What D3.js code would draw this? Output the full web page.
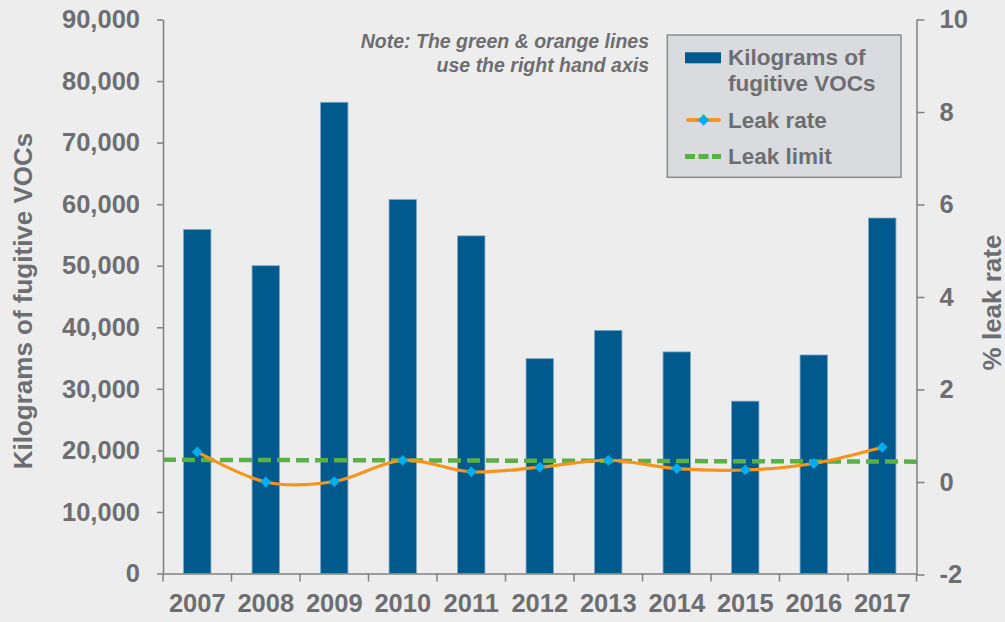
<!DOCTYPE html>
<html>
<head>
<meta charset="utf-8">
<script src="https://cdn.jsdelivr.net/npm/d3@7"></script>
<style>
  html, body { margin: 0; padding: 0; background: #EDEDED; }
  svg { display: block; }
  text { font-family: "Liberation Sans", Arial, sans-serif; font-weight: bold; fill: #6D6E71; }
</style>
</head>
<body>
<svg id="chart" width="1005" height="622"></svg>
<script>
// ---- data ----
const years = ["2007","2008","2009","2010","2011","2012","2013","2014","2015","2016","2017"];
const kgVOCs = [55900, 50000, 76550, 60750, 54850, 34900, 39500, 36000, 28000, 35500, 57750];
const leakRate = [0.65, 0.0, 0.01, 0.47, 0.22, 0.32, 0.47, 0.29, 0.26, 0.40, 0.75];
const leakLimitEnds = [0.48, 0.44];
const leftTicks = [0, 10000, 20000, 30000, 40000, 50000, 60000, 70000, 80000, 90000];
const rightTicks = [-2, 0, 2, 4, 6, 8, 10];
const legendLabels = [["Kilograms of", "fugitive VOCs"], ["Leak rate"], ["Leak limit"]];
const noteLines = ["Note: The green & orange lines", "use the right hand axis"];
const leftTitle = "Kilograms of fugitive VOCs";
const rightTitle = "% leak rate";

// ---- styles ----
const C = { bar: "#005A8E", barEdge: "#7FA8C8", line: "#F7941D", marker: "#00AEEF",
            limit: "#5BAF47", axis: "#7F8083", text: "#6D6E71", legendFill: "#D9DBDE", legendStroke: "#8A8C8E" };

const svg = d3.select("#chart");
svg.append("rect").attr("width", 1005).attr("height", 622).attr("fill", "#EDEDED");

const plot = { left: 163, right: 916.5, top: 19.5, bottom: 573.5 };

const x = d3.scaleBand().domain(years).range([plot.left, plot.right]).paddingInner(0.6).paddingOuter(0.3);
const yL = d3.scaleLinear().domain([0, 90000]).range([plot.bottom, plot.top]);
const yR = d3.scaleLinear().domain([-2, 10]).range([plot.bottom + 1, plot.top]);

// bars
svg.append("g").selectAll("rect").data(years).join("rect")
  .attr("x", d => x(d))
  .attr("width", x.bandwidth())
  .attr("y", (d, i) => yL(kgVOCs[i]))
  .attr("height", (d, i) => yL(0) - yL(kgVOCs[i]))
  .attr("fill", C.bar)
  .attr("stroke", C.barEdge)
  .attr("stroke-width", 0.8);

// leak limit
svg.append("line")
  .attr("x1", plot.left).attr("x2", plot.right)
  .attr("y1", yR(leakLimitEnds[0])).attr("y2", yR(leakLimitEnds[1]))
  .attr("stroke", C.limit).attr("stroke-width", 4.5)
  .attr("stroke-dasharray", "13,6");

// leak rate line
const cx = d => x(d) + x.bandwidth() / 2;
const line = d3.line().x((d, i) => cx(years[i])).y(d => yR(d)).curve(d3.curveCardinal.tension(0));
svg.append("path").datum(leakRate)
  .attr("d", line)
  .attr("fill", "none")
  .attr("stroke", C.line)
  .attr("stroke-width", 3.2)
  .attr("stroke-linecap", "round");

const diamond = d3.symbol().type(d3.symbolSquare).size(58);
svg.append("g").selectAll("path").data(leakRate).join("path")
  .attr("d", diamond)
  .attr("transform", (d, i) => `translate(${cx(years[i])},${yR(d)}) rotate(45)`)
  .attr("fill", C.marker);

// axes
function styleAxis(g) {
  g.selectAll("path.domain").attr("stroke", C.axis).attr("stroke-width", 1.5);
  g.selectAll(".tick line").attr("stroke", C.axis).attr("stroke-width", 1.5);
  g.selectAll(".tick text").attr("fill", C.text)
    .style("font-family", '"Liberation Sans", Arial, sans-serif')
    .style("font-weight", "bold").style("font-size", "25.5px");
}

const gL = svg.append("g").attr("transform", `translate(${plot.left},0)`)
  .call(d3.axisLeft(yL).tickValues(leftTicks).tickSize(6).tickPadding(17).tickFormat(d3.format(",")).tickSizeOuter(0));
styleAxis(gL);

const gR = svg.append("g").attr("transform", `translate(${plot.right},0)`)
  .call(d3.axisRight(yR).tickValues(rightTicks).tickSize(8).tickPadding(15).tickFormat(d => String(d)).tickSizeOuter(0));
styleAxis(gR);

const gX = svg.append("g").attr("transform", `translate(0,${plot.bottom})`)
  .call(d3.axisBottom(x).tickSize(0).tickPadding(20).tickSizeOuter(0));
styleAxis(gX);

// x boundary ticks
const gap = (x.step() - x.bandwidth()) / 2;
const bounds = years.map(d => x(d) - gap).concat([x(years[years.length - 1]) + x.bandwidth() + gap]);
svg.append("g").selectAll("line").data(bounds).join("line")
  .attr("x1", d => d).attr("x2", d => d)
  .attr("y1", plot.bottom).attr("y2", plot.bottom + 8)
  .attr("stroke", C.axis).attr("stroke-width", 1.5);

// axis titles
svg.append("text")
  .attr("transform", "translate(32,301) rotate(-90)")
  .attr("text-anchor", "middle")
  .style("font-size", "26px")
  .text(leftTitle);

svg.append("text")
  .attr("transform", "translate(1000.5,302.5) rotate(-90)")
  .attr("text-anchor", "middle")
  .style("font-size", "26px")
  .text(rightTitle);

// note
svg.append("g").selectAll("text").data(noteLines).join("text")
  .attr("x", 649)
  .attr("y", (d, i) => 48.3 + i * 23.4)
  .attr("text-anchor", "end")
  .style("font-size", "19.5px")
  .style("font-style", "italic")
  .text(d => d);

// legend
const lg = svg.append("g");
lg.append("rect").attr("x", 667.3).attr("y", 35).attr("width", 233.7).attr("height", 142.3)
  .attr("fill", C.legendFill).attr("stroke", C.legendStroke).attr("stroke-width", 1.5);
lg.append("rect").attr("x", 685).attr("y", 52.3).attr("width", 36).attr("height", 11).attr("fill", C.bar);
lg.append("line").attr("x1", 688).attr("x2", 719).attr("y1", 120).attr("y2", 120)
  .attr("stroke", C.line).attr("stroke-width", 4).attr("stroke-linecap", "round");
lg.append("path").attr("d", d3.symbol().type(d3.symbolSquare).size(64))
  .attr("transform", "translate(703.5,120) rotate(45)").attr("fill", C.marker);
lg.append("line").attr("x1", 685).attr("x2", 721).attr("y1", 156.5).attr("y2", 156.5)
  .attr("stroke", C.limit).attr("stroke-width", 5).attr("stroke-dasharray", "10,3.5");

const legendBaselines = [[65, 91], [128], [163.5]];
legendLabels.forEach((lines, k) => {
  lines.forEach((t, j) => {
    lg.append("text").attr("x", 728).attr("y", legendBaselines[k][j])
      .style("font-size", "22.5px").text(t);
  });
});
</script>
</body>
</html>
